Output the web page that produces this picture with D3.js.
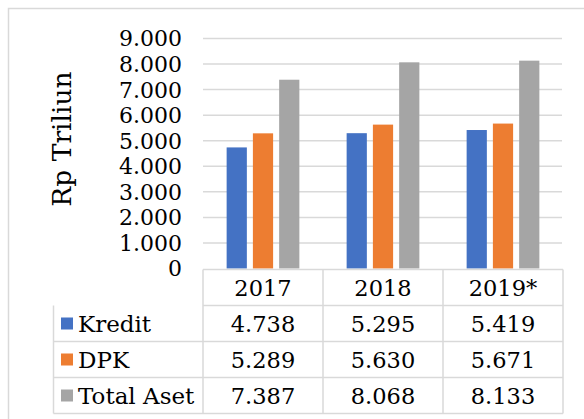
<!DOCTYPE html>
<html>
<head>
<meta charset="utf-8">
<script src="https://cdn.jsdelivr.net/npm/d3@7"></script>
<style>
  body { margin: 0; background: #fff; }
  svg { display: block; font-family: 'DejaVu Serif', serif; }
</style>
</head>
<body>
<div id="chart"></div>
<script>
;(function() {
  'use strict';

  var years = ['2017', '2018', '2019*'];
  var series = ['Kredit', 'DPK', 'Total Aset'];
  var kredit = [4738, 5295, 5419];
  var dpk = [5289, 5630, 5671];
  var totalAset = [7387, 8068, 8133];
  var yTicks = [0, 1000, 2000, 3000, 4000, 5000, 6000, 7000, 8000, 9000];
  var colors = ['#4472C4', '#ED7D31', '#A5A5A5'];

  var values = [kredit, dpk, totalAset];
  var width = 584, height = 419;
  var grid = '#d9d9d9';
  var fmt = function(v) { return d3.format(',')(v).replace(/,/g, '.'); };

  var svg = d3.select('#chart').append('svg')
    .attr('width', width)
    .attr('height', height);

  // outer frame (only top and left edges fall inside the picture)
  svg.append('path')
    .attr('d', 'M8.5,' + height + 'V8.5H' + width)
    .attr('fill', 'none')
    .attr('stroke', grid)
    .attr('stroke-width', 1.5);

  var x0 = d3.scaleBand()
    .domain(years)
    .range([203, 563]);

  var x1 = d3.scaleBand()
    .domain(series)
    .range([0, x0.bandwidth()])
    .paddingInner(0.23)
    .paddingOuter(0.9);

  var y = d3.scaleLinear()
    .domain([0, 9000])
    .range([268.5, 38.5]);

  /* ------- GRID + Y AXIS ------- */
  svg.append('g').selectAll('line')
    .data(yTicks.slice(1))
    .enter().append('line')
    .attr('x1', x0.range()[0])
    .attr('x2', x0.range()[1] - 1)
    .attr('y1', function(d) { return y(d); })
    .attr('y2', function(d) { return y(d); })
    .attr('stroke', grid)
    .attr('stroke-width', 1.5);

  svg.append('g').selectAll('text')
    .data(yTicks)
    .enter().append('text')
    .attr('x', 182)
    .attr('y', function(d) { return y(d); })
    .attr('dy', '0.36em')
    .attr('text-anchor', 'end')
    .attr('font-size', 22)
    .attr('fill', '#000')
    .text(function(d) { return d === 0 ? '0' : fmt(d); });

  svg.append('text')
    .attr('transform', 'translate(71,139) rotate(-90)')
    .attr('text-anchor', 'middle')
    .attr('font-size', 26.5)
    .text('Rp Triliun');

  /* ------- BARS ------- */
  var groups = svg.append('g').selectAll('g')
    .data(years)
    .enter().append('g')
    .attr('transform', function(d) { return 'translate(' + x0(d) + ',0)'; });

  groups.selectAll('rect')
    .data(function(d, i) {
      return series.map(function(s, j) { return { key: s, value: values[j][i], j: j }; });
    })
    .enter().append('rect')
    .attr('x', function(d) { return x1(d.key); })
    .attr('width', x1.bandwidth())
    .attr('y', function(d) { return y(d.value); })
    .attr('height', function(d) { return y(0) - y(d.value); })
    .attr('fill', function(d) { return colors[d.j]; });

  /* ------- DATA TABLE ------- */
  var rowY = d3.scaleBand()
    .domain(['head'].concat(series))
    .range([269.5, 413.5]);

  var legendLeft = 53.5;
  var table = svg.append('g')
    .attr('stroke', grid)
    .attr('stroke-width', 1.5)
    .attr('fill', 'none');

  // horizontal lines
  table.selectAll('line.h')
    .data(rowY.domain().concat(['end']))
    .enter().append('line')
    .attr('class', 'h')
    .attr('x1', function(d, i) { return i < 2 ? x0.range()[0] : legendLeft; })
    .attr('x2', x0.range()[1])
    .attr('y1', function(d, i) { return rowY.range()[0] + i * rowY.step(); })
    .attr('y2', function(d, i) { return rowY.range()[0] + i * rowY.step(); });

  // vertical lines
  var cols = years.map(function(d) { return x0(d); }).concat([x0.range()[1]]);
  table.selectAll('line.v')
    .data(cols)
    .enter().append('line')
    .attr('class', 'v')
    .attr('x1', function(d) { return d; })
    .attr('x2', function(d) { return d; })
    .attr('y1', rowY.range()[0])
    .attr('y2', rowY.range()[1]);

  table.append('line')
    .attr('x1', legendLeft).attr('x2', legendLeft)
    .attr('y1', rowY(series[0])).attr('y2', rowY.range()[1]);

  var half = rowY.bandwidth() / 2;

  svg.append('g').selectAll('text')
    .data(years)
    .enter().append('text')
    .attr('x', function(d) { return x0(d) + x0.bandwidth() / 2; })
    .attr('y', rowY('head') + half)
    .attr('dy', '0.36em')
    .attr('text-anchor', 'middle')
    .attr('font-size', 22.5)
    .text(function(d) { return d; });

  var rows = svg.append('g').selectAll('g')
    .data(series)
    .enter().append('g')
    .attr('transform', function(d) { return 'translate(0,' + (rowY(d) + half) + ')'; });

  rows.append('rect')
    .attr('x', 61)
    .attr('y', -6)
    .attr('width', 12)
    .attr('height', 12)
    .attr('fill', function(d, i) { return colors[i]; });

  rows.append('text')
    .attr('x', 78)
    .attr('dy', '0.36em')
    .attr('font-size', 23)
    .text(function(d) { return d; });

  rows.selectAll('text.val')
    .data(function(d, i) { return values[i]; })
    .enter().append('text')
    .attr('class', 'val')
    .attr('x', function(d, i) { return x0(years[i]) + x0.bandwidth() / 2; })
    .attr('dy', '0.36em')
    .attr('text-anchor', 'middle')
    .attr('font-size', 22.5)
    .text(function(d) { return fmt(d); });
})();
</script>
</body>
</html>
